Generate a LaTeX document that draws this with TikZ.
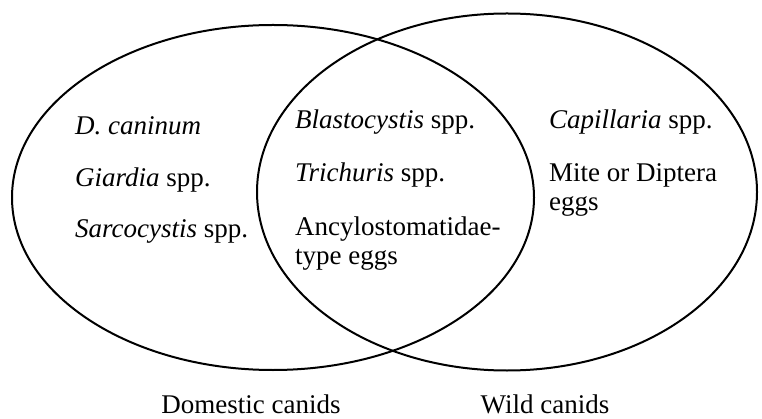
\documentclass[tikz,border=0pt]{standalone}
\usepackage{fontspec}
\setmainfont{Liberation Serif}
\usetikzlibrary{shapes.geometric}
\usetikzlibrary{positioning}

\tikzset{
    venn_set/.style={ellipse, draw=black, line width=2pt, inner sep=0pt},
    taxon/.style={anchor=base west, inner sep=0pt, align=left},
    set_label/.style={anchor=base, inner sep=0pt}
}

\begin{document}
\begin{tikzpicture}[x=1pt, y=-1pt, font=\fontsize{27}{29.5}\selectfont]
    \useasboundingbox (0,0) rectangle (762,419);

    \node [venn_set, minimum width=522pt, minimum height=345pt] (domestic) at (273,197.5) {};
    \node [venn_set, minimum width=500pt, minimum height=357pt] (wild) at (507,192) {};

    % domestic only
    \node [taxon] (d_caninum) at (75,135) {\textit{D. caninum}};
    \node [taxon, below=52pt of d_caninum.base west, anchor=base west] (giardia) {\textit{Giardia} spp.};
    \node [taxon, below=51pt of giardia.base west, anchor=base west] (sarcocystis) {\textit{Sarcocystis} spp.};

    % both (base of a two-line node sits on its last line)
    \node [taxon] (blastocystis) at (295,129) {\textit{Blastocystis} spp.};
    \node [taxon, below=53pt of blastocystis.base west, anchor=base west] (trichuris) {\textit{Trichuris} spp.};
    \node [taxon, below=83pt of trichuris.base west, anchor=base west] (ancylostomatidae) {Ancylostomatidae-\\type eggs};

    % wild only
    \node [taxon] (capillaria) at (549,129) {\textit{Capillaria} spp.};
    \node [taxon, below=82pt of capillaria.base west, anchor=base west] (mite) {Mite or Diptera\\eggs};

    \node [set_label] (domestic_label) at (251,413) {Domestic canids};
    \node [set_label] (wild_label) at (545,413) {Wild canids};
\end{tikzpicture}
\end{document}
